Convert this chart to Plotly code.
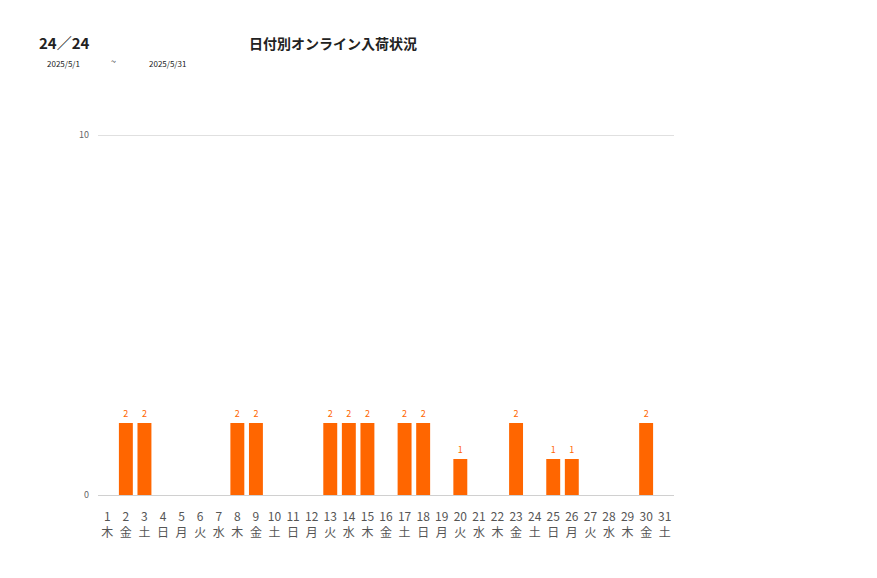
import plotly.graph_objects as go

days = [str(d) for d in range(1, 32)]
weekdays = ["木","金","土","日","月","火","水","木","金","土","日","月","火","水","木",
            "金","土","日","月","火","水","木","金","土","日","月","火","水","木","金","土"]
values = [0,2,2,0,0,0,0,2,2,0,0,0,2,2,2,0,2,2,0,1,0,0,2,0,1,1,0,0,0,2,0]
labels = [str(v) if v > 0 else "" for v in values]

OFF = 8
YMAX = 10.5
ML = 98 - OFF
PW = 576
PH = 36 * YMAX
MT = (495 - PH) - OFF
MR = 877 - ML - PW
MB = 578 - MT - PH
XRANGE = [-0.5, len(days) - 0.5]

fig = go.Figure()
fig.add_trace(go.Bar(
    x=days, y=values, text=labels, textposition="outside",
    textfont=dict(size=9, color="#FF6600"),
    marker=dict(color="#FF6600", line=dict(width=0)),
    cliponaxis=False, hoverinfo="x+y",
))
# invisible carrier for the weekday row axis
fig.add_trace(go.Scatter(x=days, y=[0] * len(days), xaxis="x2", mode="markers",
                         marker=dict(opacity=0), hoverinfo="skip", showlegend=False))

font_family = "Noto Sans CJK JP, Noto Sans, sans-serif"
fig.update_layout(
    width=877, height=578,
    margin=dict(l=ML, r=MR, t=MT, b=MB),
    paper_bgcolor="white", plot_bgcolor="white",
    bargap=0.25, showlegend=False,
    font=dict(family=font_family),
    xaxis=dict(type="category", categoryorder="array", categoryarray=days,
               range=XRANGE, autorange=False,
               tickmode="array", tickvals=days, ticktext=days,
               tickfont=dict(size=12, color="#555555"), showgrid=False,
               showline=True, linecolor="#d0d0d0", linewidth=1, ticks="",
               ticklabelstandoff=11),
    xaxis2=dict(type="category", categoryorder="array", categoryarray=days,
                overlaying="x", anchor="y", side="bottom",
                range=XRANGE, autorange=False,
                tickmode="array", tickvals=days, ticktext=weekdays,
                tickfont=dict(size=12, color="#555555"), showgrid=False,
                showline=False, ticks="", ticklabelstandoff=29),
    yaxis=dict(range=[0, YMAX], tickvals=[0, 10], tickfont=dict(size=9, color="#666666"),
               showgrid=True, gridcolor="#e0e0e0", gridwidth=1, zeroline=False, ticks="",
               ticklabelstandoff=8),
)

def ann(text, x, y, size, color="#222222", bold=False):
    fig.add_annotation(text=f"<b>{text}</b>" if bold else text,
                       x=(x - OFF - ML) / PW, y=(578 - MB - (y - OFF)) / PH,
                       xref="paper", yref="paper", xanchor="left", yanchor="middle",
                       showarrow=False, font=dict(size=size, color=color, family=font_family))

ann("24／24", 37, 43, 15, bold=True)
ann("日付別オンライン入荷状況", 247, 43, 14, bold=True)
ann("2025/5/1", 45, 63, 8)
ann("~", 109, 62, 9)
ann("2025/5/31", 147, 63, 8)

fig.write_html("out.html")
